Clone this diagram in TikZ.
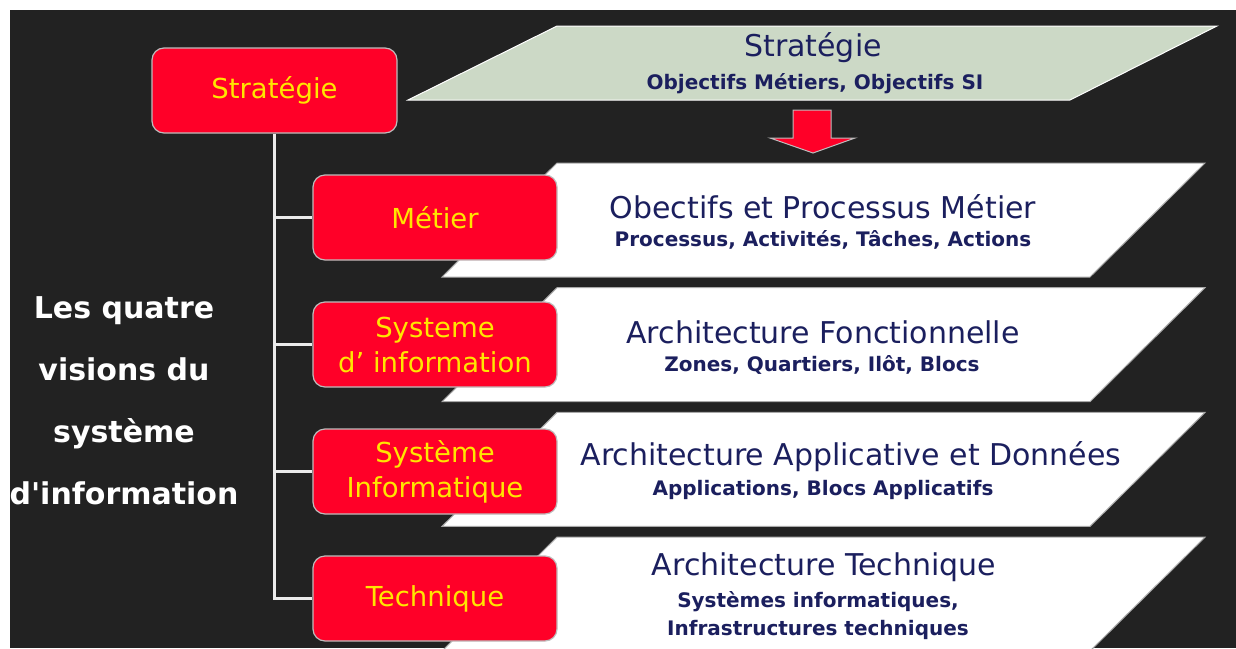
\documentclass[tikz,border=0pt]{standalone}
\usepackage{fontspec}
\setmainfont{DejaVu Sans}
\usetikzlibrary{positioning}
\definecolor{bgdark}{HTML}{222222}
\definecolor{boxred}{HTML}{FF0028}
\definecolor{boxyellow}{HTML}{FFE600}
\definecolor{boxgray}{HTML}{BDBDBD}
\definecolor{sage}{HTML}{CCD9C6}
\definecolor{navy}{HTML}{1B1F5E}
\definecolor{edgegray}{HTML}{A8A8A8}
\tikzset{
  redbox/.style={draw=boxgray, line width=1.2pt, fill=boxred, rounded corners=12pt,
    minimum width=244pt, minimum height=85pt, text=boxyellow, align=center,
    inner sep=0pt, font=\fontsize{27.5}{35}\selectfont},
  layer/.style={fill=white, draw=edgegray, line width=1pt},
  headline/.style={text=navy, inner sep=0pt, font=\fontsize{30}{34}\selectfont},
  subline/.style={text=navy, inner sep=0pt, align=center, font=\bfseries\fontsize{20}{28}\selectfont},
  trunk/.style={draw=white!92!black, line width=3.5pt},
}
\begin{document}
\begin{tikzpicture}[x=1pt,y=-1pt]
  \useasboundingbox (0,0) rectangle (1236,648);
  \fill[white] (0,0) rectangle (1236,648);
  \fill[bgdark] (10,10) rectangle (1236,648);
  \begin{scope}
  \clip (10,10) rectangle (1236,648);
  %LAYERS
  \fill[sage, draw=white, line width=1pt] (557,26) -- (1217,26) -- (1070,100) -- (408,100) -- cycle;
  \foreach \r in {0,...,3}
    \draw[layer] (557,163+124.7*\r) -- (1205,163+124.7*\r) -- (1090,277+124.7*\r) -- (442,277+124.7*\r) -- cycle;
  \fill[boxred, draw=boxgray, line width=1pt] (793,110) -- (831,110) -- (831,138) -- (855,138)
    -- (813,153) -- (770,138) -- (793,138) -- cycle;
  %NODES
  \node[redbox, minimum width=245pt] (strat) at (274.5,90.5) {Stratégie};
  \node[redbox] (metier) at (435,217.5) {Métier};
  \node[redbox] (si) at (435,344.5) {Systeme\\d’ information};
  \node[redbox] (info) at (435,471.5) {Système\\Informatique};
  \node[redbox] (tech) at (435,598.5) {Technique};
  \node[text=white, align=center, inner sep=0pt,
    font=\bfseries\fontsize{30}{62}\selectfont\addfontfeatures{Ligatures=TeXOff}]
    (title) at (124,401) {Les quatre\\visions du\\système\\d'information};
  \node[headline] (strathead) at (813,48) {Stratégie};
  \node[subline] (stratsub) at (815,84) {Objectifs Métiers, Objectifs SI};
  \node[headline] (metierhead) at (823,207) {Obectifs et Processus Métier};
  \node[subline] (metiersub) at (823,240) {Processus, Activités, Tâches, Actions};
  \node[headline] (sihead) at (823,332) {Architecture Fonctionnelle};
  \node[subline] (sisub) at (822,365) {Zones, Quartiers, Ilôt, Blocs};
  \node[headline] (infohead) at (851,457) {Architecture Applicative et Données};
  \node[subline] (infosub) at (823,490) {Applications, Blocs Applicatifs};
  \node[headline] (techhead) at (824,567) {Architecture Technique};
  \node[subline] (techsub) at (818,616) {Systèmes informatiques,\\Infrastructures techniques};
  %EDGES
  \draw[trunk] (strat.south) |- (tech.west);
  \foreach \n in {metier,si,info}
    \draw[trunk] (strat.south |- \n.west) -- (\n.west);
  \end{scope}
\end{tikzpicture}
\end{document}
